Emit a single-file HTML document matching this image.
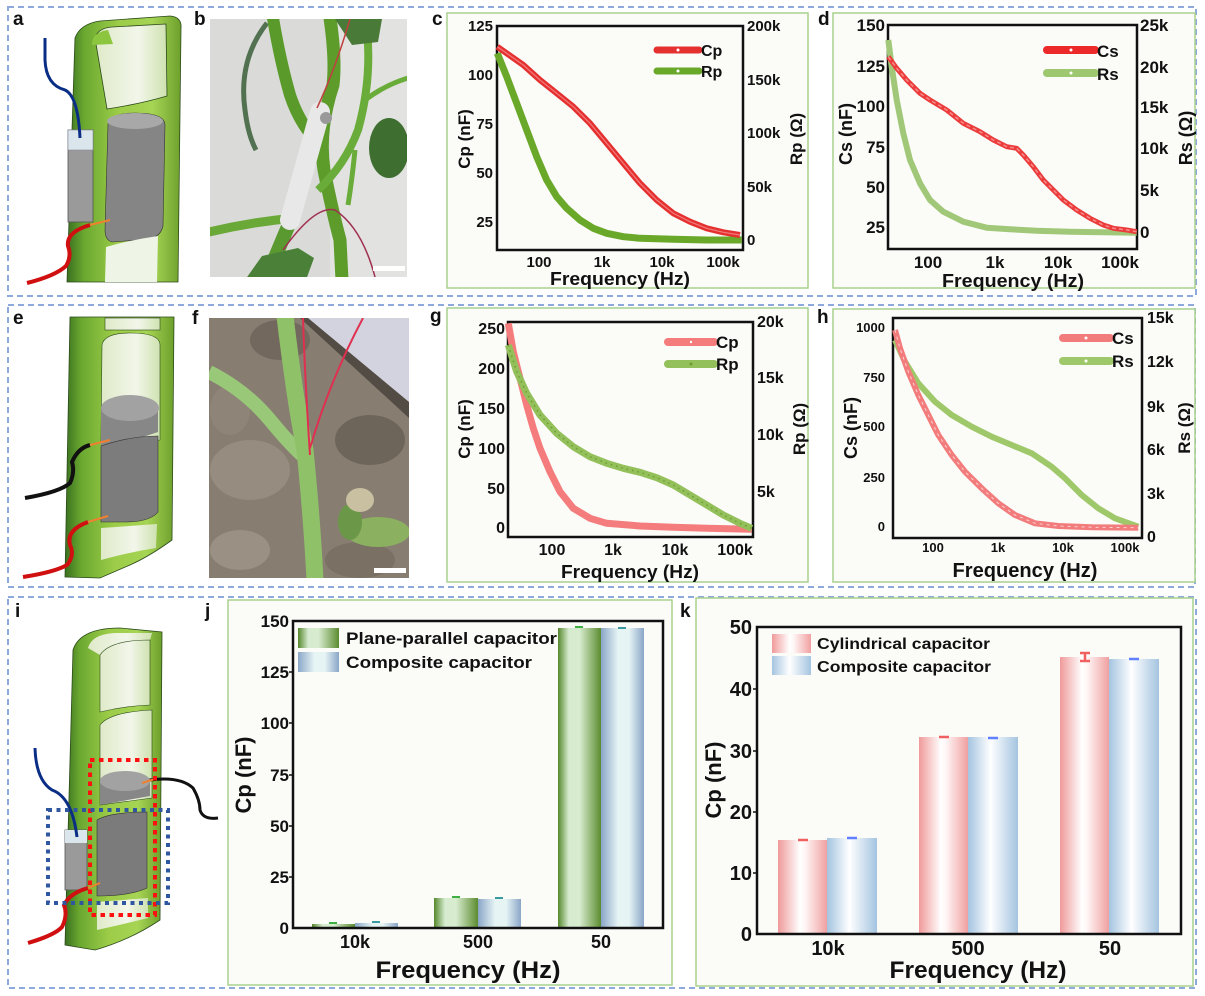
<!DOCTYPE html>
<html><head><meta charset="utf-8"><style>
html,body{margin:0;padding:0;background:#fff;}
svg{display:block;}
text{font-family:"Liberation Sans",Arial,sans-serif;font-weight:bold;fill:#111;}
</style></head><body>
<svg width="1205" height="996" viewBox="0 0 1205 996" xmlns="http://www.w3.org/2000/svg">
<defs>
<linearGradient id="stemG" x1="0" x2="1" y1="0" y2="0">
<stop offset="0" stop-color="#3a7020"/><stop offset="0.15" stop-color="#6aa830"/><stop offset="0.45" stop-color="#9ccc48"/><stop offset="0.75" stop-color="#a6d454"/><stop offset="1" stop-color="#6d9f2c"/></linearGradient>
<linearGradient id="winG" x1="0" x2="1"><stop offset="0" stop-color="#dfeac8"/><stop offset="0.6" stop-color="#f2f6ea"/><stop offset="1" stop-color="#cfe2b0"/></linearGradient>
<linearGradient id="bG" x1="0" x2="1"><stop offset="0" stop-color="#55882c"/><stop offset="0.25" stop-color="#d6ebcf"/><stop offset="0.5" stop-color="#d8eccf"/><stop offset="1" stop-color="#5b8c30"/></linearGradient>
<linearGradient id="bB" x1="0" x2="1"><stop offset="0" stop-color="#8aa6c8"/><stop offset="0.4" stop-color="#e6f4f4"/><stop offset="0.65" stop-color="#e6f4f4"/><stop offset="1" stop-color="#8aa6c8"/></linearGradient>
<linearGradient id="kR" x1="0" x2="1"><stop offset="0" stop-color="#f09a9a"/><stop offset="0.45" stop-color="#ffffff"/><stop offset="0.55" stop-color="#fff6f6"/><stop offset="1" stop-color="#f0a0a0"/></linearGradient>
<linearGradient id="kB" x1="0" x2="1"><stop offset="0" stop-color="#a4c4e0"/><stop offset="0.45" stop-color="#ffffff"/><stop offset="1" stop-color="#a4c4e0"/></linearGradient>
<clipPath id="cb"><rect x="210" y="19" width="197" height="258"/></clipPath>
<clipPath id="cf"><rect x="209" y="318" width="200" height="260"/></clipPath>
</defs>
<rect width="1205" height="996" fill="#fff"/>

<g fill="none" stroke="#8ea9db" stroke-width="2" stroke-dasharray="6,4">
<rect x="8" y="7" width="1188" height="289"/>
<rect x="8" y="305" width="1187" height="282"/>
<rect x="8" y="597" width="1188" height="391"/>
</g>

<g font-size="19">
<text x="13" y="25">a</text><text x="194" y="25">b</text><text x="432" y="25">c</text><text x="818" y="25">d</text>
<text x="13" y="324">e</text><text x="192" y="324">f</text><text x="430" y="322">g</text><text x="817" y="323">h</text>
<text x="15" y="617">i</text><text x="205" y="617">j</text><text x="680" y="617">k</text>
</g>

<!-- ILLUSTRATION a -->
<g>
<path d="M75,38 Q80,24 100,21 L170,16 Q182,17 181,28 L178,282 L67,282 Z" fill="url(#stemG)" stroke="#2b4a1a" stroke-width="0.8"/>
<path d="M95,38 Q98,28 112,27 L166,24 L167,96 Q140,104 107,109 Z" fill="url(#winG)" stroke="#2b4a1a" stroke-width="0.8"/>
<path d="M92,45 Q92,32 108,30 L113,44 Z" fill="#8cc63f"/>
<path d="M108,124 Q110,113 135,113 Q165,113 165,125 L163,226 Q160,240 140,240 L112,242 Q105,240 105,230 Z" fill="#858585" stroke="#333" stroke-width="0.6"/>
<ellipse cx="135" cy="121" rx="28" ry="8" fill="#a8a8a8"/>
<path d="M106,247 Q130,240 158,236 L157,282 L105,282 Z" fill="#eef4e6"/>
<rect x="68" y="130" width="25" height="92" fill="#9a9a9a" stroke="#555" stroke-width="0.8"/>
<rect x="68" y="130" width="25" height="20" fill="#dbe6ec" stroke="#889" stroke-width="0.6"/>
<path d="M45,38 L45,60 Q46,85 65,90 Q78,96 80,138" stroke="#0a2d85" stroke-width="3" fill="none"/>
<path d="M27,283 Q55,276 66,266 Q72,256 68,246 Q66,232 90,225" stroke="#d01010" stroke-width="4" fill="none"/>
<path d="M90,225 L110,220" stroke="#f08030" stroke-width="2"/>
</g>

<!-- PHOTO b -->
<g clip-path="url(#cb)">
<rect x="210" y="19" width="197" height="258" fill="#dadad8"/>
<rect x="330" y="19" width="77" height="258" fill="#e2e2e0"/>
<path d="M267,23 Q238,60 245,110 Q248,135 256,150" stroke="#3a5e38" stroke-width="5" fill="none" opacity="0.85"/>
<path d="M273,18 Q280,60 290,95 Q300,125 318,142" stroke="#5a9a2a" stroke-width="12" fill="none"/>
<path d="M330,18 Q336,60 333,85 Q318,130 324,170 Q332,210 340,240 L342,280" stroke="#5d9c2a" stroke-width="13" fill="none"/>
<path d="M367,30 Q372,80 358,130 Q345,165 318,190" stroke="#6aac3a" stroke-width="8" fill="none"/>
<path d="M365,100 Q385,85 408,78" stroke="#6aac3a" stroke-width="5" fill="none"/>
<path d="M355,150 Q352,180 348,205" stroke="#6aac3a" stroke-width="5" fill="none"/>
<path d="M205,233 Q250,222 295,218" stroke="#6aa838" stroke-width="9" fill="none"/>
<path d="M293,215 Q280,245 265,282" stroke="#5a9830" stroke-width="14" fill="none"/>
<ellipse cx="389" cy="148" rx="20" ry="30" fill="#3e6e30"/>
<path d="M335,19 L382,19 L378,42 L352,45 Z" fill="#4a7a38"/>
<path d="M245,280 L262,256 L298,248 L314,258 L306,280 Z" fill="#4a8038"/>
<path d="M320,112 L290,220" stroke="#e8e8e8" stroke-width="20" stroke-linecap="round"/>
<circle cx="326" cy="118" r="6" fill="#999"/>
<path d="M350,19 Q335,70 317,108" stroke="#c04040" stroke-width="1.5" fill="none"/>
<path d="M283,250 Q315,205 335,210 Q362,228 375,277" stroke="#a03050" stroke-width="1.5" fill="none"/>
<rect x="373" y="266" width="32" height="5" fill="#fff"/>
</g>

<!-- ILLUSTRATION e -->
<g>
<path d="M70,317 L174,317 L172,540 Q150,556 130,565 L100,578 L65,577 Z" fill="url(#stemG)" stroke="#2b4a1a" stroke-width="0.8"/>
<rect x="105" y="318" width="55" height="12" fill="url(#winG)" stroke="#2b4a1a" stroke-width="0.6"/>
<path d="M102,345 Q104,333 130,333 Q160,333 160,345 L160,440 L101,443 Z" fill="url(#winG)" stroke="#2b4a1a" stroke-width="0.6"/>
<path d="M101,410 L158,410 L158,432 Q130,442 101,446 Z" fill="#878787"/>
<ellipse cx="130" cy="408" rx="29" ry="13" fill="#a2a2a2"/>
<path d="M101,446 Q130,436 158,436 L158,512 Q150,522 125,522 L101,522 Z" fill="#7c7c7c" stroke="#333" stroke-width="0.6"/>
<path d="M101,528 L157,524 L156,548 Q130,552 101,560 Z" fill="url(#winG)"/>
<path d="M25,498 Q60,492 70,483 Q75,472 72,462 Q78,448 90,445" stroke="#111" stroke-width="4" fill="none"/>
<path d="M90,445 L110,440" stroke="#f08030" stroke-width="2"/>
<path d="M23,577 Q55,572 67,565 Q75,555 70,545 Q66,530 88,522" stroke="#d01010" stroke-width="4" fill="none"/>
<path d="M88,522 L108,516" stroke="#f08030" stroke-width="2"/>
</g>

<!-- PHOTO f -->
<g clip-path="url(#cf)">
<rect x="209" y="318" width="200" height="260" fill="#877d71"/>
<ellipse cx="250" cy="470" rx="40" ry="30" fill="#978c80"/>
<ellipse cx="370" cy="440" rx="35" ry="25" fill="#6e655a"/>
<ellipse cx="240" cy="550" rx="30" ry="20" fill="#9a9084"/>
<ellipse cx="280" cy="340" rx="30" ry="20" fill="#73685d"/>
<ellipse cx="360" cy="560" rx="35" ry="18" fill="#7a7064"/>
<ellipse cx="230" cy="410" rx="20" ry="25" fill="#8f8478"/>
<polygon points="300,318 320,318 409,392 409,418" fill="#45403b" opacity="0.8"/>
<polygon points="308,318 409,318 409,402" fill="#d3d3df"/>
<path d="M209,372 Q245,390 270,420 Q288,442 302,455" stroke="#98c878" stroke-width="14" fill="none"/>
<path d="M285,316 Q295,400 305,450 Q312,520 315,580" stroke="#8fc268" stroke-width="17" fill="none"/>
<path d="M303,318 Q305,380 310,455" stroke="#e03050" stroke-width="2" fill="none"/>
<path d="M363,318 Q330,380 310,448" stroke="#e03050" stroke-width="2" fill="none"/>
<ellipse cx="378" cy="532" rx="32" ry="15" fill="#8ab060"/>
<ellipse cx="350" cy="522" rx="12" ry="18" fill="#6a9848"/>
<ellipse cx="360" cy="500" rx="14" ry="12" fill="#c8c0a0"/>
<rect x="374" y="568" width="32" height="5" fill="#fff"/>
</g>

<!-- ILLUSTRATION i -->
<g>
<path d="M73,650 Q80,628 120,628 L162,632 L160,920 Q130,940 95,950 L65,945 Z" fill="url(#stemG)" stroke="#2b4a1a" stroke-width="0.8"/>
<path d="M88,648 Q92,634 115,633 L152,633 L150,640 Q120,642 100,655 Z" fill="url(#winG)"/>
<path d="M100,655 Q110,640 150,640 L150,705 Q125,706 100,712 Z" fill="url(#winG)" stroke="#2b4a1a" stroke-width="0.6"/>
<path d="M100,725 Q110,712 152,710 L152,798 L100,805 Z" fill="url(#winG)" stroke="#2b4a1a" stroke-width="0.6"/>
<path d="M100,782 L150,778 L150,796 L100,805 Z" fill="#878787"/>
<ellipse cx="125" cy="781" rx="25" ry="10" fill="#a2a2a2"/>
<path d="M97,820 Q110,812 147,812 L147,888 Q130,896 97,896 Z" fill="#7b7b7b" stroke="#333" stroke-width="0.6"/>
<path d="M97,902 L148,898 L148,918 Q120,925 97,930 Z" fill="url(#winG)"/>
<rect x="65" y="830" width="22" height="60" fill="#9a9a9a" stroke="#555" stroke-width="0.8"/>
<rect x="65" y="830" width="22" height="13" fill="#dbe6ec"/>
<path d="M35,748 Q36,780 52,790 Q72,797 77,837" stroke="#0a2d85" stroke-width="3" fill="none"/>
<path d="M150,780 Q180,776 193,788 Q200,800 200,810 Q203,820 218,818" stroke="#111" stroke-width="3" fill="none"/>
<path d="M142,783 L155,779" stroke="#f08030" stroke-width="2"/>
<path d="M28,943 Q55,935 62,927 Q68,915 64,905 Q70,893 88,888" stroke="#d01010" stroke-width="4" fill="none"/>
<path d="M88,888 L100,883" stroke="#f08030" stroke-width="2"/>
<rect x="90" y="760" width="65" height="155" fill="none" stroke="#ff1010" stroke-width="4" stroke-dasharray="4.5,4.5"/>
<rect x="48" y="810" width="120" height="93" fill="none" stroke="#2f57a0" stroke-width="4" stroke-dasharray="4,4.5"/>
</g>

<!-- PANEL c -->
<rect x="447" y="13" width="361" height="275" fill="#fbfbf8" stroke="#a9d18e" stroke-width="1.5"/>
<rect x="497" y="26" width="246" height="224" fill="#fbfbf8" stroke="#111" stroke-width="2.5"/>
<g font-size="15" text-anchor="end">
<text x="493" y="31">125</text><text x="493" y="80">100</text><text x="493" y="129">75</text><text x="493" y="178">50</text><text x="493" y="227">25</text>
</g>
<g font-size="15">
<text x="747" y="31">200k</text><text x="747" y="85">150k</text><text x="747" y="138">100k</text><text x="747" y="192">50k</text><text x="747" y="245">0</text>
</g>
<g font-size="15" text-anchor="middle">
<text x="539" y="267">100</text><text x="602" y="267">1k</text><text x="662" y="267">10k</text><text x="723" y="267">100k</text>
</g>
<text x="620" y="285" font-size="18" text-anchor="middle" textLength="140" lengthAdjust="spacingAndGlyphs">Frequency (Hz)</text>
<text transform="translate(470,139) rotate(-90)" font-size="17" text-anchor="middle">Cp (nF)</text>
<text transform="translate(802,139) rotate(-90)" font-size="17" text-anchor="middle">Rp (Ω)</text>
<polyline points="497.3,53.3 506.7,76.7 516.7,103.3 526.7,130 536.7,156.7 546.7,180 556.7,196.7 566.7,208.3 580,220 593.3,228.3 606.7,233.3 623.3,236.7 640,238.3 673.3,239.3 706.7,240 741.7,240" fill="none" stroke="#6aa82a" stroke-width="7" stroke-linejoin="round"/>
<polyline points="497.3,46.7 506.7,53.3 523.3,65 540,80 556.7,93.3 573.3,106.7 590,123.3 606.7,143.3 623.3,163.3 640,183.3 656.7,200 673.3,213.3 690,221.7 706.7,228.3 723.3,232.3 740,235" fill="none" stroke="#e53030" stroke-width="6" stroke-linejoin="round"/>
<polyline points="497.3,46.7 506.7,53.3 523.3,65 540,80 556.7,93.3 573.3,106.7 590,123.3 606.7,143.3 623.3,163.3 640,183.3 656.7,200 673.3,213.3 690,221.7 706.7,228.3 723.3,232.3 740,235" fill="none" stroke="#f27a7a" stroke-width="1.2"/>
<path d="M657,50 L699,50" stroke="#e53030" stroke-width="7" stroke-linecap="round"/><circle cx="678" cy="50" r="1.5" fill="#fff"/>
<path d="M657,71 L699,71" stroke="#6aa82a" stroke-width="7" stroke-linecap="round"/><circle cx="678" cy="71" r="1.5" fill="#fff"/>
<text x="701" y="56" font-size="16">Cp</text><text x="701" y="77" font-size="16">Rp</text>

<!-- PANEL d -->
<rect x="833" y="13" width="362" height="275" fill="#fbfbf8" stroke="#a9d18e" stroke-width="1.5"/>
<rect x="888" y="25" width="249" height="224" fill="#fbfbf8" stroke="#111" stroke-width="2.5"/>
<g font-size="17" text-anchor="end">
<text x="885" y="31">150</text><text x="885" y="72">125</text><text x="885" y="112">100</text><text x="885" y="153">75</text><text x="885" y="193">50</text><text x="885" y="233">25</text>
</g>
<g font-size="17">
<text x="1140" y="31">25k</text><text x="1140" y="73">20k</text><text x="1140" y="113">15k</text><text x="1140" y="154">10k</text><text x="1140" y="196">5k</text><text x="1140" y="238">0</text>
</g>
<g font-size="17" text-anchor="middle">
<text x="928" y="268">100</text><text x="995" y="268">1k</text><text x="1058" y="268">10k</text><text x="1120" y="268">100k</text>
</g>
<text x="1013" y="287" font-size="18" text-anchor="middle" textLength="142" lengthAdjust="spacingAndGlyphs">Frequency (Hz)</text>
<text transform="translate(852,134) rotate(-90)" font-size="18" text-anchor="middle">Cs (nF)</text>
<text transform="translate(1192,138) rotate(-90)" font-size="18" text-anchor="middle">Rs (Ω)</text>
<polyline points="888.3,40 891.7,66.7 896.7,100 903.3,133.3 910,160 920,183.3 930,200 943.3,211.7 963.3,221.7 986.7,227.7 1010,229.3 1036.7,230.7 1070,231.7 1103.3,232.3 1136.7,232.7" fill="none" stroke="#a0c878" stroke-width="6" stroke-linejoin="round"/>
<polyline points="888.3,56.7 896.7,68.3 906.7,80 920,93.3 930,100 946.7,110 963.3,123.3 980,131.7 993.3,140 1006.7,146.7 1016.7,148.3 1023.3,155 1033.3,166.7 1043.3,180 1053.3,190 1063.3,200 1076.7,210 1090,218.3 1103.3,225 1113.3,228.3 1126.7,230 1136.7,231.7" fill="none" stroke="#ec3b3b" stroke-width="5" stroke-linejoin="round"/>
<polyline points="888.3,56.7 896.7,68.3 906.7,80 920,93.3 930,100 946.7,110 963.3,123.3 980,131.7 993.3,140 1006.7,146.7 1016.7,148.3 1023.3,155 1033.3,166.7 1043.3,180 1053.3,190 1063.3,200 1076.7,210 1090,218.3 1103.3,225 1113.3,228.3 1126.7,230 1136.7,231.7" fill="none" stroke="#f58a8a" stroke-width="1.5" stroke-dasharray="4,3"/>
<path d="M1047,50 L1095,50" stroke="#ec2a2a" stroke-width="8" stroke-linecap="round"/><circle cx="1071" cy="50" r="1.5" fill="#fff"/>
<path d="M1047,73 L1095,73" stroke="#9dc870" stroke-width="8" stroke-linecap="round"/><circle cx="1071" cy="73" r="1.5" fill="#fff"/>
<text x="1097" y="57" font-size="17">Cs</text><text x="1097" y="80" font-size="17">Rs</text>

<!-- PANEL g -->
<rect x="447" y="308" width="361" height="274" fill="#fbfbf8" stroke="#a9d18e" stroke-width="1.5"/>
<rect x="508" y="322" width="245" height="215" fill="#fbfbf8" stroke="#111" stroke-width="2.5"/>
<g font-size="16" text-anchor="end">
<text x="505" y="334">250</text><text x="505" y="374">200</text><text x="505" y="414">150</text><text x="505" y="454">100</text><text x="505" y="494">50</text><text x="505" y="533">0</text>
</g>
<g font-size="16">
<text x="757" y="327">20k</text><text x="757" y="383">15k</text><text x="757" y="440">10k</text><text x="757" y="497">5k</text>
</g>
<g font-size="16" text-anchor="middle">
<text x="552" y="555">100</text><text x="613" y="555">1k</text><text x="675" y="555">10k</text><text x="735" y="555">100k</text>
</g>
<text x="630" y="578" font-size="18" text-anchor="middle" textLength="138" lengthAdjust="spacingAndGlyphs">Frequency (Hz)</text>
<text transform="translate(470,429) rotate(-90)" font-size="17" text-anchor="middle">Cp (nF)</text>
<text transform="translate(805,429) rotate(-90)" font-size="17" text-anchor="middle">Rp (Ω)</text>
<polyline points="508.3,323.3 513.3,351.7 520,378.3 526.7,405 533.3,428.3 540,448.3 550,471.7 560,491.7 573.3,508.3 590,518.3 606.7,523.3 640,526 673.3,527.3 706.7,528.3 751.7,529.3" fill="none" stroke="#f47c7c" stroke-width="7" stroke-linejoin="round"/>
<polyline points="508.3,345 516.7,371.7 526.7,393.3 540,415 556.7,433.3 573.3,446.7 590,456.7 606.7,463.3 623.3,468.3 640,472.3 656.7,477.7 673.3,485 690,495 706.7,505 723.3,515 740,523.3 751.7,528.3" fill="none" stroke="#93c05a" stroke-width="7" stroke-linejoin="round"/>
<polyline points="508.3,345 516.7,371.7 526.7,393.3 540,415 556.7,433.3 573.3,446.7 590,456.7 606.7,463.3 623.3,468.3 640,472.3 656.7,477.7 673.3,485 690,495 706.7,505 723.3,515 740,523.3 751.7,528.3" fill="none" stroke="#6e9e30" stroke-width="1.5" stroke-dasharray="1.5,4"/>
<path d="M668,342 L714,342" stroke="#f47c7c" stroke-width="8" stroke-linecap="round"/><circle cx="691" cy="342" r="1.2" fill="#fff"/>
<path d="M668,364 L714,364" stroke="#93c05a" stroke-width="8" stroke-linecap="round"/><circle cx="691" cy="364" r="1.5" fill="#6e9e30"/>
<text x="716" y="348" font-size="17">Cp</text><text x="716" y="370" font-size="17">Rp</text>

<!-- PANEL h -->
<rect x="833" y="309" width="362" height="273" fill="#fbfbf8" stroke="#a9d18e" stroke-width="1.5"/>
<rect x="893" y="318" width="249" height="220" fill="#fbfbf8" stroke="#111" stroke-width="2.5"/>
<g font-size="13" text-anchor="end">
<text x="885" y="332">1000</text><text x="885" y="382">750</text><text x="885" y="431">500</text><text x="885" y="482">250</text><text x="885" y="531">0</text>
</g>
<g font-size="16">
<text x="1147" y="323">15k</text><text x="1147" y="367">12k</text><text x="1147" y="412">9k</text><text x="1147" y="455">6k</text><text x="1147" y="499">3k</text><text x="1147" y="542">0</text>
</g>
<g font-size="13" text-anchor="middle">
<text x="933" y="552">100</text><text x="998" y="552">1k</text><text x="1063" y="552">10k</text><text x="1125" y="552">100k</text>
</g>
<text x="1025" y="577" font-size="20" text-anchor="middle" textLength="145" lengthAdjust="spacingAndGlyphs">Frequency (Hz)</text>
<text transform="translate(857,428) rotate(-90)" font-size="18" text-anchor="middle">Cs (nF)</text>
<text transform="translate(1190,428) rotate(-90)" font-size="17" text-anchor="middle">Rs (Ω)</text>
<polyline points="895,340 905,361.7 918.3,383.3 935,401.7 951.7,415 971.7,426.7 991.7,436.7 1011.7,445 1031.7,453.3 1051.7,466.7 1065,478.3 1081.7,495 1098.3,508.3 1115,518.3 1138.3,526.7" fill="none" stroke="#9fc86a" stroke-width="6" stroke-linejoin="round"/>
<polyline points="895,330 900,348.3 908.3,371.7 918.3,395 928.3,415 938.3,435 951.7,455 965,471.7 981.7,488.3 998.3,503.3 1015,515 1035,523.3 1058.3,526 1091.7,527.3 1138.3,527.7" fill="none" stroke="#f27c7c" stroke-width="6" stroke-linejoin="round"/>
<polyline points="895,330 900,348.3 908.3,371.7 918.3,395 928.3,415 938.3,435 951.7,455 965,471.7 981.7,488.3 998.3,503.3 1015,515 1035,523.3 1058.3,526 1091.7,527.3 1138.3,527.7" fill="none" stroke="#fbd0d0" stroke-width="1" stroke-dasharray="3,4"/>
<path d="M1063,338 L1110,338" stroke="#f27c7c" stroke-width="8" stroke-linecap="round"/><circle cx="1086" cy="338" r="1.5" fill="#fff"/>
<path d="M1063,361 L1110,361" stroke="#9fc86a" stroke-width="8" stroke-linecap="round"/><circle cx="1086" cy="361" r="1.5" fill="#fff"/>
<text x="1112" y="344" font-size="17">Cs</text><text x="1112" y="367" font-size="17">Rs</text>

<!-- PANEL j -->
<rect x="228" y="600" width="444" height="385" fill="#fbfbf8" stroke="#a9d18e" stroke-width="1.5"/>
<rect x="293" y="621" width="370" height="307" fill="#fbfbf8"/>
<rect x="312" y="924" width="43" height="4" fill="url(#bG)"/>
<rect x="355" y="923" width="43" height="5" fill="url(#bB)"/>
<rect x="434" y="898" width="44" height="30" fill="url(#bG)"/>
<rect x="478" y="899" width="43" height="29" fill="url(#bB)"/>
<rect x="558" y="628" width="43" height="300" fill="url(#bG)"/>
<rect x="601" y="628" width="43" height="300" fill="url(#bB)"/>
<g stroke-width="2">
<path d="M329,923 L337,923 M452,897 L460,897 M575,627 L583,627" stroke="#3cb043"/>
<path d="M372,922 L380,922 M495,898 L503,898 M618,628 L626,628" stroke="#3a9aa0"/>
</g>
<rect x="293" y="621" width="370" height="307" fill="none" stroke="#111" stroke-width="2.5"/>
<g stroke="#111" stroke-width="1.5">
<path d="M289,672 L293,672 M289,723 L293,723 M289,775 L293,775 M289,826 L293,826 M289,877 L293,877"/>
</g>
<g font-size="17" text-anchor="end">
<text x="289" y="627">150</text><text x="289" y="678">125</text><text x="289" y="729">100</text><text x="289" y="781">75</text><text x="289" y="832">50</text><text x="289" y="883">25</text><text x="289" y="934">0</text>
</g>
<g font-size="18" text-anchor="middle">
<text x="355" y="948">10k</text><text x="478" y="948">500</text><text x="601" y="948">50</text>
</g>
<text x="468" y="978" font-size="24" text-anchor="middle" textLength="185" lengthAdjust="spacingAndGlyphs">Frequency (Hz)</text>
<text transform="translate(251,775) rotate(-90)" font-size="22" text-anchor="middle">Cp (nF)</text>
<rect x="298" y="628" width="41" height="20" fill="url(#bG)"/>
<rect x="298" y="652" width="41" height="20" fill="url(#bB)"/>
<text x="346" y="644" font-size="17" textLength="211" lengthAdjust="spacingAndGlyphs">Plane-parallel capacitor</text>
<text x="346" y="668" font-size="17" textLength="186" lengthAdjust="spacingAndGlyphs">Composite capacitor</text>

<!-- PANEL k -->
<rect x="696" y="598" width="497" height="388" fill="#fbfbf8" stroke="#a9d18e" stroke-width="1.5"/>
<rect x="757" y="627" width="424" height="307" fill="#fbfbf8"/>
<rect x="778" y="840" width="49" height="94" fill="url(#kR)"/>
<rect x="827" y="838" width="50" height="96" fill="url(#kB)"/>
<rect x="919" y="737" width="49" height="197" fill="url(#kR)"/>
<rect x="968" y="737" width="50" height="197" fill="url(#kB)"/>
<rect x="1060" y="657" width="49" height="277" fill="url(#kR)"/>
<rect x="1109" y="659" width="50" height="275" fill="url(#kB)"/>
<g stroke-width="2.5" fill="none">
<path d="M798,840 L808,840 M939,737 L949,737 M1080,653 L1090,653 M1085,653 L1085,661 M1080,661 L1090,661" stroke="#f06060"/>
<path d="M847,838 L857,838 M988,738 L998,738 M1129,659 L1139,659" stroke="#6080ff"/>
</g>
<rect x="757" y="627" width="424" height="307" fill="none" stroke="#111" stroke-width="2.5"/>
<g stroke="#111" stroke-width="1.5">
<path d="M753,689 L757,689 M753,751 L757,751 M753,812 L757,812 M753,873 L757,873"/>
</g>
<g font-size="20" text-anchor="end">
<text x="752" y="634">50</text><text x="752" y="696">40</text><text x="752" y="758">30</text><text x="752" y="819">20</text><text x="752" y="880">10</text><text x="752" y="941">0</text>
</g>
<g font-size="20" text-anchor="middle">
<text x="828" y="955">10k</text><text x="968" y="955">500</text><text x="1110" y="955">50</text>
</g>
<text x="978" y="978" font-size="24" text-anchor="middle" textLength="177" lengthAdjust="spacingAndGlyphs">Frequency (Hz)</text>
<text transform="translate(721,780) rotate(-90)" font-size="22" text-anchor="middle">Cp (nF)</text>
<rect x="772" y="634" width="39" height="19" fill="url(#kR)"/>
<rect x="772" y="656" width="39" height="19" fill="url(#kB)"/>
<text x="817" y="649" font-size="16" textLength="173" lengthAdjust="spacingAndGlyphs">Cylindrical capacitor</text>
<text x="817" y="672" font-size="16" textLength="174" lengthAdjust="spacingAndGlyphs">Composite capacitor</text>
</svg>
</body></html>
